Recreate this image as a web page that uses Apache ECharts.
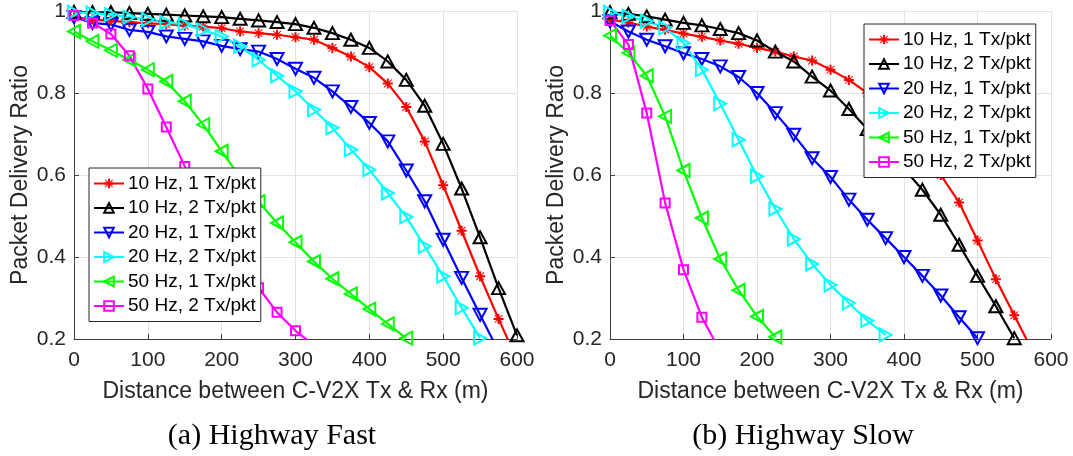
<!DOCTYPE html>
<html>
<head>
<meta charset="utf-8">
<script src="https://cdn.jsdelivr.net/npm/echarts@6/dist/echarts.min.js"></script>
<style>
  html, body { margin: 0; padding: 0; background: #ffffff; }
  #chart { width: 1073px; height: 456px; }
</style>
</head>
<body>
<div id="chart"></div>
<script>
// Tx-Rx distance samples (m), one every 25 m
const distances = [0, 25, 50, 75, 100, 125, 150, 175, 200, 225, 250, 275, 300,
                   325, 350, 375, 400, 425, 450, 475, 500, 525, 550, 575, 600];

// Packet delivery ratio, Highway Fast
const fast10Hz1Tx = [0.985, 0.979, 0.976, 0.973, 0.970, 0.968, 0.964, 0.962, 0.958, 0.950, 0.946, 0.942, 0.936,
                     0.930, 0.910, 0.889, 0.863, 0.823, 0.766, 0.682, 0.575, 0.464, 0.353, 0.249, 0.150];
const fast10Hz2Tx = [0.998, 0.997, 0.997, 0.995, 0.993, 0.991, 0.989, 0.987, 0.985, 0.981, 0.977, 0.973, 0.968,
                     0.959, 0.946, 0.930, 0.910, 0.877, 0.832, 0.769, 0.676, 0.567, 0.448, 0.324, 0.209];
const fast20Hz1Tx = [0.985, 0.971, 0.967, 0.954, 0.949, 0.938, 0.932, 0.926, 0.915, 0.907, 0.901, 0.883, 0.859,
                     0.837, 0.804, 0.766, 0.727, 0.682, 0.611, 0.536, 0.442, 0.349, 0.259, 0.170];
const fast20Hz2Tx = [0.997, 0.995, 0.991, 0.985, 0.979, 0.972, 0.967, 0.954, 0.938, 0.914, 0.881, 0.842, 0.804,
                     0.759, 0.715, 0.662, 0.613, 0.556, 0.498, 0.426, 0.353, 0.276, 0.202];
const fast50Hz1Tx = [0.950, 0.926, 0.904, 0.881, 0.857, 0.828, 0.780, 0.723, 0.658, 0.595, 0.535, 0.483, 0.436,
                     0.389, 0.347, 0.310, 0.273, 0.237, 0.202];
const fast50Hz2Tx = [0.989, 0.971, 0.944, 0.891, 0.810, 0.717, 0.621, 0.530, 0.450, 0.385, 0.325, 0.265, 0.220,
                     0.185];

// Packet delivery ratio, Highway Slow
const slow10Hz1Tx = [0.979, 0.972, 0.962, 0.954, 0.945, 0.937, 0.928, 0.920, 0.910, 0.901, 0.889, 0.879, 0.857,
                     0.832, 0.800, 0.760, 0.710, 0.660, 0.600, 0.533, 0.440, 0.346, 0.258, 0.170];
const slow10Hz2Tx = [0.997, 0.993, 0.987, 0.979, 0.971, 0.965, 0.956, 0.946, 0.928, 0.901, 0.877, 0.840, 0.806,
                     0.761, 0.712, 0.665, 0.615, 0.564, 0.503, 0.430, 0.354, 0.280, 0.202];
const slow20Hz1Tx = [0.975, 0.950, 0.930, 0.914, 0.897, 0.883, 0.865, 0.839, 0.800, 0.751, 0.698, 0.641, 0.595,
                     0.540, 0.491, 0.446, 0.400, 0.354, 0.306, 0.253, 0.202];
const slow20Hz2Tx = [0.997, 0.987, 0.975, 0.959, 0.922, 0.857, 0.774, 0.686, 0.597, 0.517, 0.444, 0.383, 0.332,
                     0.288, 0.245, 0.210];
const slow50Hz1Tx = [0.940, 0.898, 0.842, 0.743, 0.611, 0.495, 0.395, 0.319, 0.255, 0.205];
const slow50Hz2Tx = [0.977, 0.918, 0.751, 0.532, 0.369, 0.253, 0.170];

const seriesNames = ['10 Hz, 1 Tx/pkt', '10 Hz, 2 Tx/pkt', '20 Hz, 1 Tx/pkt',
                     '20 Hz, 2 Tx/pkt', '50 Hz, 1 Tx/pkt', '50 Hz, 2 Tx/pkt'];
const yTickLabels = ['0.2', '0.4', '0.6', '0.8', '1'];
const xAxisTitle = 'Distance between C-V2X Tx & Rx (m)';
const yAxisTitle = 'Packet Delivery Ratio';
const captions = ['(a) Highway Fast', '(b) Highway Slow'];

const fastSets = [fast10Hz1Tx, fast10Hz2Tx, fast20Hz1Tx, fast20Hz2Tx, fast50Hz1Tx, fast50Hz2Tx];
const slowSets = [slow10Hz1Tx, slow10Hz2Tx, slow20Hz1Tx, slow20Hz2Tx, slow50Hz1Tx, slow50Hz2Tx];

// Eight-armed asterisk marker
const asteriskPath = 'path://M4,0 L6,0 L6,10 L4,10 Z M0,4 L10,4 L10,6 L0,6 Z ' +
  'M0.8,1.5 L1.5,0.8 L9.2,8.5 L8.5,9.2 Z M8.5,0.8 L9.2,1.5 L1.5,9.2 L0.8,8.5 Z';

// Line colour and marker per series
const looks = [
  { color: '#ff0000', symbol: asteriskPath, size: 10, rotate: 0, filled: true },
  { color: '#000000', symbol: 'triangle', size: [13, 12], rotate: 0 },
  { color: '#0000ff', symbol: 'triangle', size: [13, 12], rotate: 180 },
  { color: '#00ffff', symbol: 'triangle', size: [13, 12], rotate: -90 },
  { color: '#00ff00', symbol: 'triangle', size: [13, 12], rotate: 90 },
  { color: '#ff00ff', symbol: 'rect', size: 9, rotate: 0 }
];

const FONT = 'Liberation Sans';
const TEXT = '#262626';

function makeSeries(sets, axisIndex) {
  return sets.map((vals, i) => {
    const lk = looks[i];
    return {
      name: seriesNames[i],
      type: 'line',
      xAxisIndex: axisIndex,
      yAxisIndex: axisIndex,
      data: vals.map((v, k) => [distances[k], v]),
      symbol: lk.symbol,
      symbolSize: lk.size,
      symbolRotate: lk.rotate,
      showAllSymbol: true,
      clip: true,
      lineStyle: { color: lk.color, width: 2.2 },
      itemStyle: lk.filled
        ? { color: lk.color, borderWidth: 0 }
        : { color: 'rgba(255,255,255,0)', borderColor: lk.color, borderWidth: 2 },
      emphasis: { disabled: true },
      animation: false
    };
  });
}

function makeXAxis(gridIndex) {
  return {
    type: 'value', gridIndex: gridIndex, min: 0, max: 600, interval: 100,
    name: xAxisTitle, nameLocation: 'middle', nameGap: 41,
    nameTextStyle: { fontFamily: FONT, fontSize: 23, color: TEXT },
    axisLine: { show: true, onZero: false, lineStyle: { color: '#404040', width: 1 } },
    axisTick: { show: true, inside: true, length: 5, lineStyle: { color: '#404040' } },
    axisLabel: { fontFamily: FONT, fontSize: 21, color: TEXT, margin: 11 },
    splitLine: { show: true, lineStyle: { color: '#e3e3e3', width: 1 } }
  };
}

function makeYAxis(gridIndex) {
  return {
    type: 'value', gridIndex: gridIndex, min: 0.2, max: 1, interval: 0.2,
    name: yAxisTitle, nameLocation: 'middle', nameGap: 42, nameRotate: 90,
    nameTextStyle: { fontFamily: FONT, fontSize: 23, color: TEXT },
    axisLine: { show: true, onZero: false, lineStyle: { color: '#404040', width: 1 } },
    axisTick: { show: true, inside: true, length: 5, lineStyle: { color: '#404040' } },
    axisLabel: {
      fontFamily: FONT, fontSize: 21, color: TEXT, margin: 8,
      formatter: v => yTickLabels[Math.round((v - 0.2) / 0.2)]
    },
    splitLine: { show: true, lineStyle: { color: '#e3e3e3', width: 1 } }
  };
}

function makeLegend(left, top) {
  return {
    data: seriesNames, orient: 'vertical', left: left, top: top,
    itemWidth: 30, itemHeight: 12, itemGap: 5.5,
    padding: [6, 5, 6, 4],
    backgroundColor: '#ffffff', borderColor: '#262626', borderWidth: 1,
    textStyle: { fontFamily: FONT, fontSize: 19, color: '#000000', padding: [0, 0, 0, -1] },
    selectedMode: false
  };
}

const chart = echarts.init(document.getElementById('chart'), null, { renderer: 'canvas' });
chart.setOption({
  backgroundColor: '#ffffff',
  animation: false,
  grid: [
    { left: 74, top: 11, width: 443, height: 328, show: false },
    { left: 610, top: 11, width: 441, height: 328, show: false }
  ],
  xAxis: [makeXAxis(0), makeXAxis(1)],
  yAxis: [makeYAxis(0), makeYAxis(1)],
  legend: [makeLegend(89, 168), makeLegend(864, 24)],
  series: makeSeries(fastSets, 0).concat(makeSeries(slowSets, 1)),
  graphic: [
    { type: 'text', x: 272, y: 436, style: { text: captions[0], font: '30px "Liberation Serif"', fill: '#000', align: 'center', verticalAlign: 'middle' } },
    { type: 'text', x: 803, y: 436, style: { text: captions[1], font: '30px "Liberation Serif"', fill: '#000', align: 'center', verticalAlign: 'middle' } }
  ]
});
</script>
</body>
</html>
